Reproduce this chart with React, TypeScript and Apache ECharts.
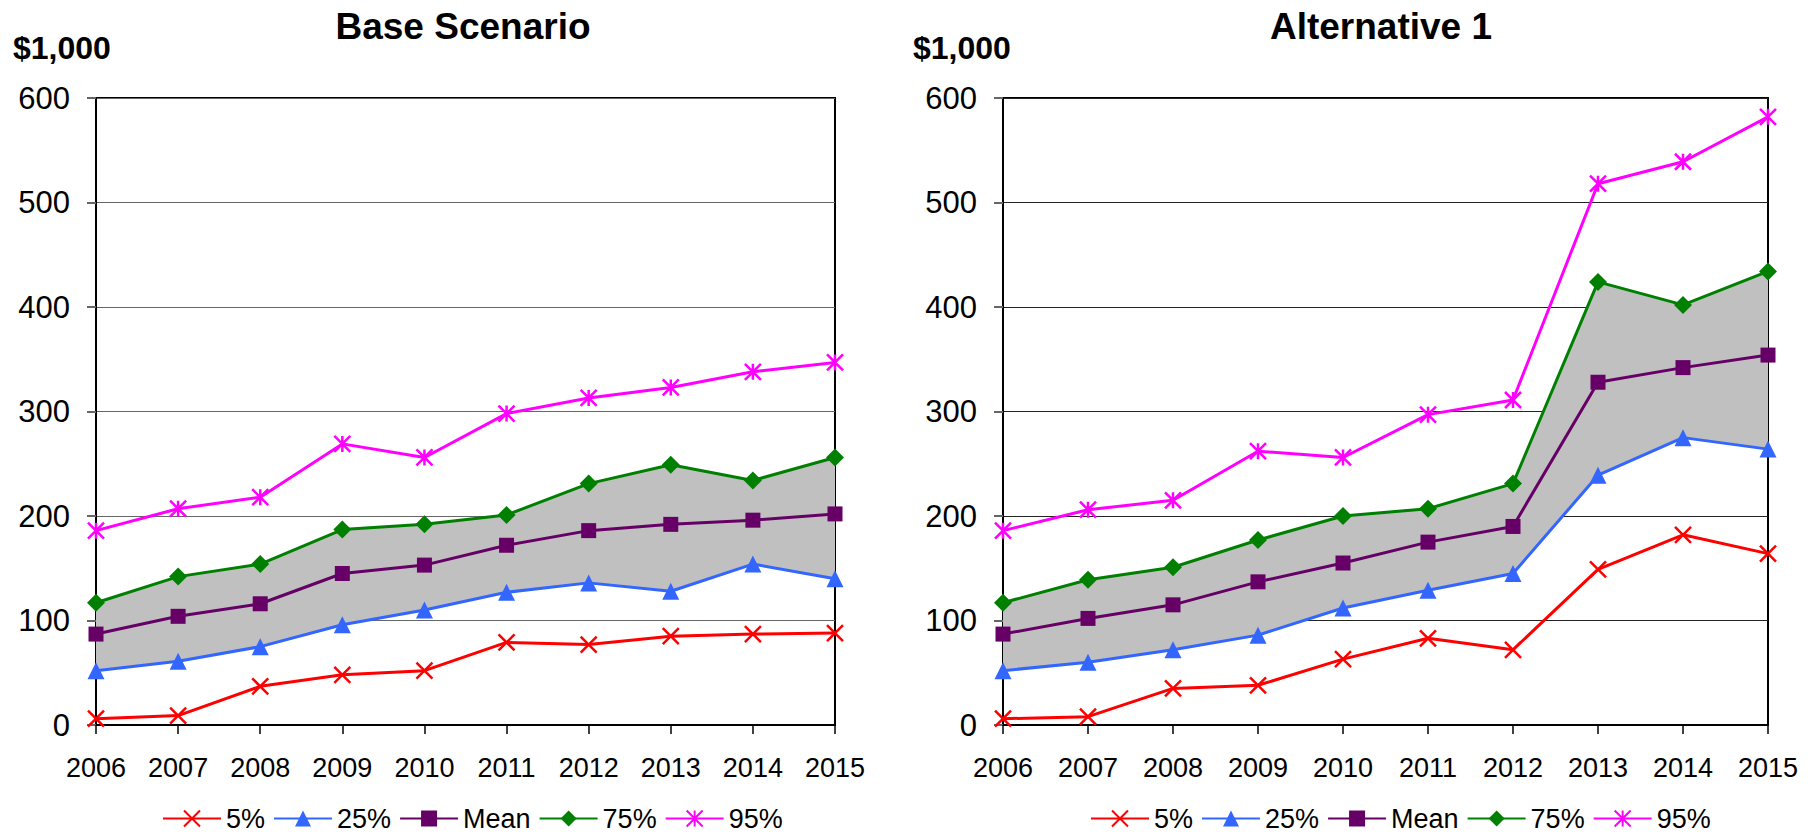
import React, { useEffect, useRef } from "react";
import * as echarts from "echarts";

const years = ["2006", "2007", "2008", "2009", "2010", "2011", "2012", "2013", "2014", "2015"];
const yTicks = [0, 100, 200, 300, 400, 500, 600];

// Base Scenario
const base5 = [6, 9, 37, 48, 52, 79, 77, 85, 87, 88];
const base25 = [52, 61, 75, 96, 110, 127, 136, 128, 154, 140];
const baseMean = [87, 104, 116, 145, 153, 172, 186, 192, 196, 202];
const base75 = [117, 142, 154, 187, 192, 201, 231, 249, 234, 256];
const base95 = [186, 207, 218, 269, 256, 298, 313, 323, 338, 347];

// Alternative 1
const alt5 = [6, 8, 35, 38, 63, 83, 72, 149, 182, 164];
const alt25 = [52, 60, 72, 86, 112, 129, 145, 239, 275, 264];
const altMean = [87, 102, 115, 137, 155, 175, 190, 328, 342, 354];
const alt75 = [117, 139, 151, 177, 200, 207, 231, 424, 402, 434];
const alt95 = [186, 206, 215, 262, 256, 297, 311, 518, 539, 582];

const seriesNames = ["5%", "25%", "Mean", "75%", "95%"];
const colors = ["#FF0000", "#3366FF", "#660066", "#008000", "#FF00FF"];
const X_PATH = "path://M0,0L10,10M10,0L0,10";
const STAR_PATH = "path://M0,0L10,10M10,0L0,10M5,0L5,10";
const symbols = [X_PATH, "triangle", "rect", "diamond", STAR_PATH];
const symbolSizes = [16, 17, 15, 18, 16];

function buildSeries(gi: number, sets: number[][]) {
  const p25 = sets[1];
  const p75 = sets[3];
  const band = p75.map((v, i) => v - p25[i]);
  const out: any[] = [
    {
      name: "_base" + gi,
      type: "line",
      xAxisIndex: gi,
      yAxisIndex: gi,
      data: p25,
      stack: "band" + gi,
      symbol: "none",
      lineStyle: { width: 0, opacity: 0 },
      silent: true,
      z: 1,
    },
    {
      name: "_band" + gi,
      type: "line",
      xAxisIndex: gi,
      yAxisIndex: gi,
      data: band,
      stack: "band" + gi,
      symbol: "none",
      lineStyle: { width: 0, opacity: 0 },
      areaStyle: { color: "#C0C0C0", opacity: 1 },
      silent: true,
      z: 1,
    },
  ];
  sets.forEach((d, k) => {
    const isStroke = k === 0 || k === 4;
    out.push({
      name: seriesNames[k],
      type: "line",
      xAxisIndex: gi,
      yAxisIndex: gi,
      data: d,
      symbol: symbols[k],
      symbolSize: symbolSizes[k],
      showAllSymbol: true,
      lineStyle: { color: colors[k], width: 3 },
      itemStyle: {
        color: colors[k],
        borderColor: colors[k],
        borderWidth: isStroke ? 2.5 : 0,
      },
      z: 3,
    });
  });
  return out;
}

const font = "Liberation Sans, Arial, sans-serif";

function axisPair(gi: number, gridColor: string) {
  const xAxis = {
    type: "category",
    gridIndex: gi,
    data: years,
    boundaryGap: false,
    axisLine: { show: true, lineStyle: { color: "#000", width: 2 } },
    axisTick: { show: true, alignWithLabel: true, length: 9, lineStyle: { color: "#000", width: 1.5 } },
    axisLabel: { color: "#000", fontSize: 27, margin: 29, fontFamily: font },
    splitLine: { show: false },
  };
  const yAxis = {
    type: "value",
    gridIndex: gi,
    min: yTicks[0],
    max: yTicks[yTicks.length - 1],
    interval: 100,
    axisLine: { show: true, lineStyle: { color: "#000", width: 2 } },
    axisTick: { show: true, length: 9, lineStyle: { color: "#666", width: 2 } },
    axisLabel: { color: "#000", fontSize: 31, margin: 26, fontFamily: font },
    splitLine: { show: true, lineStyle: { color: gridColor, width: 1.2 } },
  };
  return { xAxis, yAxis };
}

export default function App() {
  const ref = useRef<HTMLDivElement>(null);
  useEffect(() => {
    if (!ref.current) return;
    const chart = echarts.init(ref.current, undefined, { renderer: "svg" });
    const a0 = axisPair(0, "#666");
    const a1 = axisPair(1, "#222");
    const legendCommon = {
      data: seriesNames,
      itemWidth: 58,
      itemHeight: 20,
      itemGap: 8,
      textStyle: { color: "#000", fontSize: 27, lineHeight: 27, fontFamily: font, padding: [0, 0, 0, 0] },
      top: 805,
      padding: 0,
      selectedMode: false,
    };
    const option: any = {
      animation: false,
      backgroundColor: "#fff",
      title: [
        { text: "Base Scenario", left: 458, top: 3, textAlign: "center", textStyle: { fontSize: 37, fontWeight: "bold", color: "#000", fontFamily: font } },
        { text: "Alternative 1", left: 1376, top: 3, textAlign: "center", textStyle: { fontSize: 37, fontWeight: "bold", color: "#000", fontFamily: font } },
        { text: "$1,000", left: 8, top: 27, textStyle: { fontSize: 32, fontWeight: "bold", color: "#000", fontFamily: font } },
        { text: "$1,000", left: 908, top: 27, textStyle: { fontSize: 32, fontWeight: "bold", color: "#000", fontFamily: font } },
      ],
      legend: [
        { ...legendCommon, left: 162 },
        { ...legendCommon, left: 1090 },
      ],
      grid: [
        { left: 96, top: 98, width: 739, height: 627, show: true, borderColor: "#000", borderWidth: 2, backgroundColor: "transparent" },
        { left: 1003, top: 98, width: 765, height: 627, show: true, borderColor: "#000", borderWidth: 2, backgroundColor: "transparent" },
      ],
      xAxis: [a0.xAxis, a1.xAxis],
      yAxis: [a0.yAxis, a1.yAxis],
      series: [
        ...buildSeries(0, [base5, base25, baseMean, base75, base95]),
        ...buildSeries(1, [alt5, alt25, altMean, alt75, alt95]),
      ],
    };
    chart.setOption(option);
    return () => chart.dispose();
  }, []);
  return <div ref={ref} style={{ position: "fixed", left: 0, top: 0, width: 1818, height: 833 }} />;
}
